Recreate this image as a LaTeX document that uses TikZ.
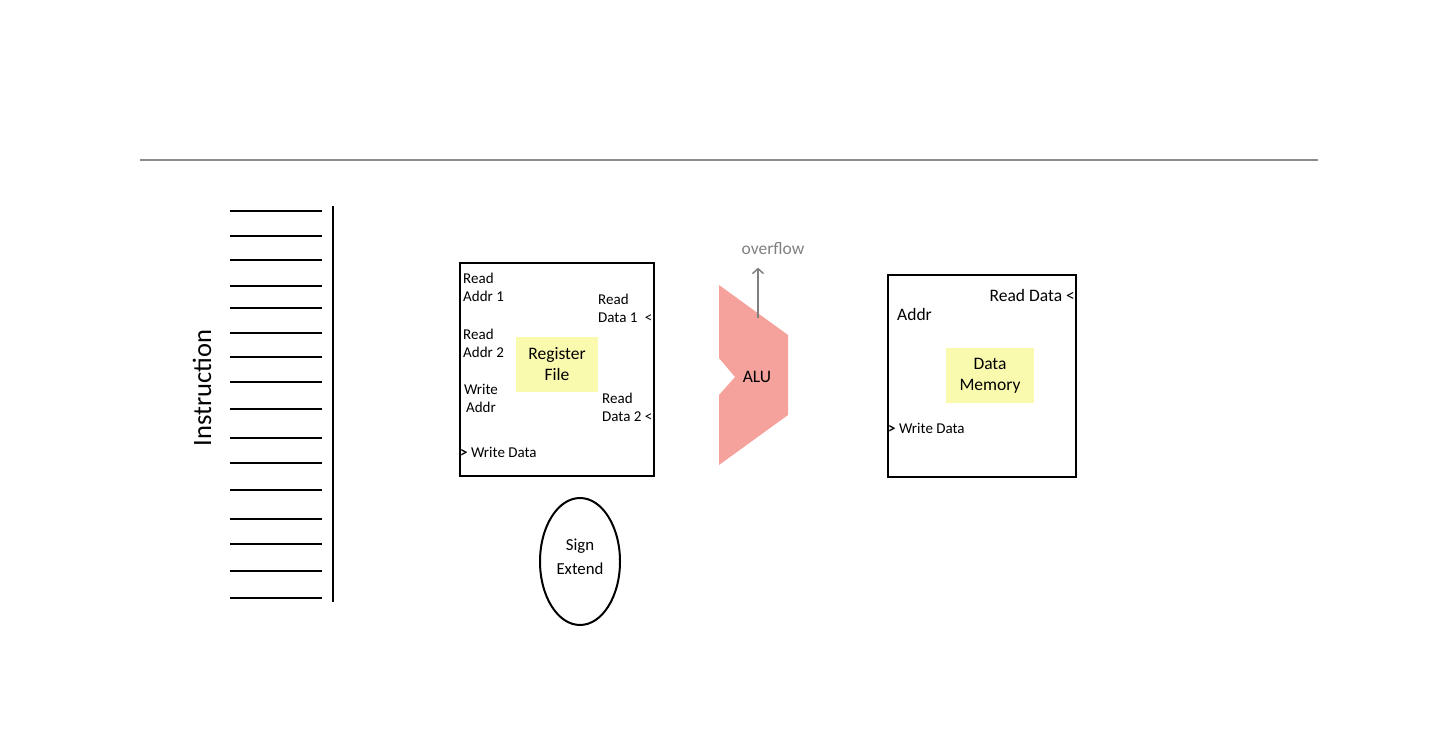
\documentclass[tikz,border=0pt]{standalone}
\usepackage{fontspec}
\setmainfont{Carlito}
\usetikzlibrary{positioning, shapes.geometric, arrows.meta}
\definecolor{alured}{HTML}{F4A29B}
\definecolor{padyellow}{HTML}{FAFAAF}
\definecolor{rulegray}{HTML}{8C8C8C}
\definecolor{flowgray}{HTML}{808080}

\begin{document}
\begin{tikzpicture}[x=1pt, y=-1pt, font=\fontsize{17.5}{21}\selectfont,
        box/.style={draw, line width=2pt, inner sep=0pt},
        pad/.style={fill=padyellow, inner sep=0pt, align=center},
        lbl/.style={inner sep=0pt, align=left, font=\fontsize{15}{18}\selectfont}]
        \useasboundingbox (0,0) rectangle (1440,754);
        % title rule
        \draw[rulegray, line width=1.3pt] (140,160) -- (1318,160);
        % instruction bits
        \foreach \y in {211,236,260,286,308,333,357,382,409,438,463,490,519,544,571,598}
            \draw[line width=2pt] (230,\y) -- (322,\y);
        \draw[line width=2pt] (333,206) -- (333,602);
        \node[rotate=90, font=\fontsize{26.5}{30}\selectfont] (instr) at (202,388) {Instruction};
        % register file
        \node[box, minimum width=194pt, minimum height=213pt] (rf) at (557,369.5) {};
        \node[pad, minimum width=82pt, minimum height=55pt] (rfpad) at (557,364.5) {Register\\File};
        \node[lbl, anchor=west] (ra1) at (463,287) {Read\\Addr 1};
        \node[lbl, anchor=west] (ra2) at (463,343) {Read\\Addr 2};
        \node[lbl, align=center] (wa) at (481,398) {Write\\Addr};
        \node[lbl, anchor=west] (rd1) at (598,308) {Read\\Data 1\enspace<};
        \node[lbl, anchor=west] (rd2) at (602,407) {Read\\Data 2 <};
        \node[lbl, anchor=west] (wd) at (460,452) {\textbf{>} Write Data};
        % sign extend
        \node[draw, ellipse, line width=2pt, minimum width=80pt, minimum height=127pt] (sext) at (580,561.5) {};
        \node[align=center, font=\fontsize{16.8}{24}\selectfont] (sextlbl) at (580,557) {Sign\\Extend};
        % alu
        \fill[alured] (719,285) -- (788,335) -- (788,415) -- (719,465) -- (719,395) -- (735,377) -- (719,358) -- cycle;
        \node (alu) at (757,377) {ALU};
        \coordinate (alutop) at (758,318);
        \node[text=flowgray] (ovf) at (773,249) {overflow};
        \draw[-{Straight Barb[length=5pt, width=11pt]}, flowgray, line width=1.5pt, shorten >=9pt] (alutop) -- (ovf.south -| alutop);
        % data memory
        \node[box, minimum width=188pt, minimum height=202pt] (dm) at (982,376) {};
        \node[pad, minimum width=88pt, minimum height=55pt] (dmpad) at (990,375.5) {Data\\Memory};
        \node[anchor=east, inner sep=0pt] (mrd) at (1075,295) {Read Data <};
        \node[anchor=west, inner sep=0pt] (maddr) at (897,314) {Addr};
        \node[lbl, anchor=west] (mwd) at (888,428) {\textbf{>} Write Data};
    \end{tikzpicture}
\end{document}
